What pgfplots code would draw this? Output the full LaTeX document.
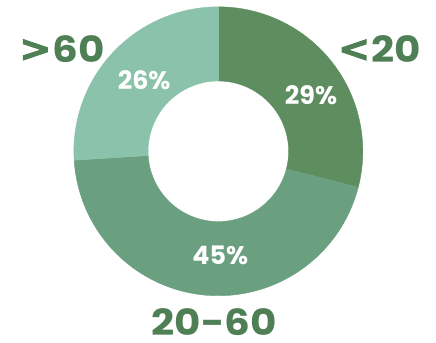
\documentclass[border=0pt]{standalone}
\usepackage{fontspec}
\setmainfont{Poppins}
\newfontfamily\symfont[BoldFeatures={FakeBold=2.5}]{DejaVu Sans}
\usepackage{pgfplots}
\pgfplotsset{compat=1.18}
\definecolor{cDark}{HTML}{5E8D60}
\definecolor{cMid}{HTML}{6A9F80}
\definecolor{cLight}{HTML}{8AC2AB}
\definecolor{cText}{HTML}{4F7F54}
% data (percent)
\def\vA{29}% <20
\def\vB{45}% 20-60
\def\vC{26}% >60
\def\cx{213}\def\cy{196}\def\Ro{148}\def\Ri{72}
\newcommand{\slice}[3]{%
  \addplot[fill=#1, draw=#1, line width=0.4pt, domain=0:2, samples=201, variable=\t]
  ({\cx + ifthenelse(\t<1.005,\Ro,\Ri)*cos(ifthenelse(\t<1.005, #2+(#3-#2)*min(\t,1), #3+(#2-#3)*max(\t-1.01,0)/0.99))},
   {\cy + ifthenelse(\t<1.005,\Ro,\Ri)*sin(ifthenelse(\t<1.005, #2+(#3-#2)*min(\t,1), #3+(#2-#3)*max(\t-1.01,0)/0.99))});
}
\newcommand{\bigsym}[1]{{\symfont\bfseries\raisebox{0.03em}{\scalebox{0.95}[1.0]{#1}}}\kern0.03em}
\newcommand{\wide}[1]{\scalebox{1.12}[1]{#1}}
\begin{document}
\pgfmathsetmacro{\aA}{90}
\pgfmathsetmacro{\aB}{90-3.6*\vA}
\pgfmathsetmacro{\aC}{90-3.6*(\vA+\vB)}
\pgfmathsetmacro{\aD}{90-3.6*(\vA+\vB+\vC)}
\begin{tikzpicture}
\useasboundingbox (0,0) rectangle (436pt,351pt);
\begin{axis}[
  at={(0,0)}, anchor=south west,
  width=436pt, height=351pt, scale only axis,
  xmin=0, xmax=436, ymin=0, ymax=351,
  hide axis, clip=false,
]
\slice{cDark}{\aA}{\aB}
\slice{cMid}{\aB}{\aC}
\slice{cLight}{\aC}{\aD}
\node[inner sep=0pt, text=white, font=\fontsize{26}{28}\selectfont\bfseries] at (axis cs:308,254) {29\%};
\node[inner sep=0pt, text=white, font=\fontsize{26}{28}\selectfont\bfseries] at (axis cs:215,89) {45\%};
\node[inner sep=0pt, text=white, font=\fontsize{26}{28}\selectfont\bfseries] at (axis cs:137,269) {26\%};
\node[inner sep=0pt, text=cText, font=\fontsize{37}{40}\selectfont\bfseries] at (axis cs:53,301) {\wide{\bigsym{>}60}};
\node[inner sep=0pt, text=cText, font=\fontsize{37}{40}\selectfont\bfseries] at (axis cs:378,301) {\wide{\bigsym{<}20}};
\node[inner sep=0pt, text=cText, font=\fontsize{37}{40}\selectfont\bfseries] at (axis cs:209,21) {\wide{20-60}};
\end{axis}
\end{tikzpicture}
\end{document}
